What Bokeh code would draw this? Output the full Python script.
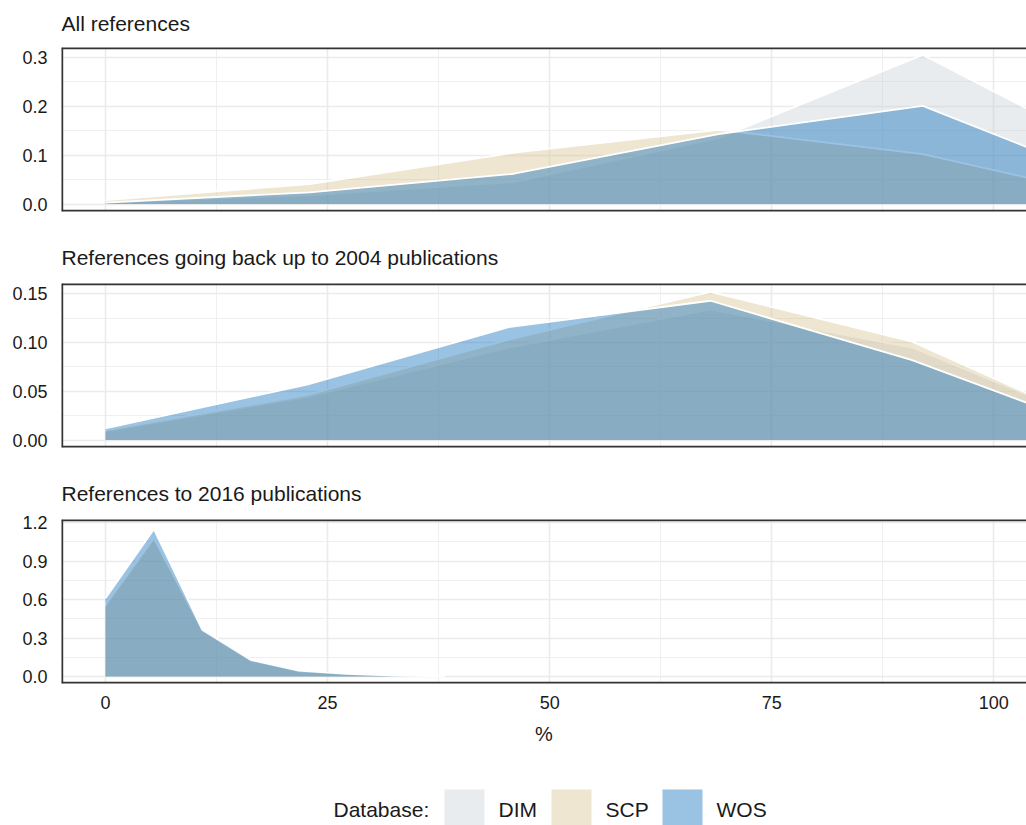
from bokeh.plotting import figure
from bokeh.layouts import column
from bokeh.models import Range1d, FixedTicker, NumeralTickFormatter, Span
from bokeh.core.properties import value
from bokeh.embed import file_html
from bokeh.resources import INLINE

FONT = "Liberation Sans"
TXT = "#1a1a1a"

# ---------------- data ----------------
databases = ["DIM", "SCP", "WOS"]
db_colors = ["#c5cfd7", "#d7c08e", "#0366b6"]
legend_title = "Database:"

panel_titles = ["All references",
                "References going back up to 2004 publications",
                "References to 2016 publications"]

# panel 1: all references
p1_x = [0, 23.0, 46.0, 69.0, 92.0, 115.0]
p1_dim = [0.003, 0.018, 0.045, 0.135, 0.305, 0.090]
p1_scp = [0.008, 0.041, 0.105, 0.152, 0.102, 0.008]
p1_wos = [0.003, 0.024, 0.062, 0.143, 0.201, 0.035]

# panel 2: references going back up to 2004 publications
p2_x = [0, 22.7, 45.4, 68.1, 90.8, 113.5]
p2_dim = [0.009, 0.044, 0.095, 0.134, 0.095, 0.010]
p2_scp = [0.010, 0.046, 0.103, 0.152, 0.101, 0.008]
p2_wos = [0.012, 0.057, 0.116, 0.143, 0.082, 0.005]

# panel 3: references to 2016 publications
p3_x = [0, 5.45, 10.9, 16.35, 21.8, 27.25, 32.7, 38.15]
p3_dim = [0.55, 1.07, 0.360, 0.125, 0.040, 0.018, 0.006, 0.0]
p3_scp = [0.56, 1.08, 0.360, 0.125, 0.042, 0.018, 0.006, 0.0]
p3_wos = [0.61, 1.15, 0.365, 0.130, 0.045, 0.020, 0.007, 0.0]

x_ticks = [0, 25, 50, 75, 100]
x_minor = [12.5, 37.5, 62.5, 87.5]
p1_yticks = [0.0, 0.1, 0.2, 0.3]
p1_yminor = [0.05, 0.15, 0.25]
p2_yticks = [0.0, 0.05, 0.10, 0.15]
p2_yminor = [0.025, 0.075, 0.125]
p3_yticks = [0.0, 0.3, 0.6, 0.9, 1.2]
p3_yminor = [0.15, 0.45, 0.75, 1.05]
x_label = "%"

X_LO, X_HI = -4.95, 103.68
W = 1026
LEFT = 61
FRAME_H = 164


def make_panel(title, x, series, yticks, yminor, yfmt, ylo, yhi, height, top, bottom,
               show_x, title_standoff):
    p = figure(width=W, height=height, output_backend="svg", toolbar_location=None,
               x_range=Range1d(X_LO, X_HI), y_range=Range1d(ylo, yhi),
               min_border_left=LEFT, min_border_right=0,
               min_border_top=top, min_border_bottom=bottom,
               background_fill_color="white", border_fill_color="white",
               outline_line_color=None)
    p.title.text = title
    p.title.text_font = FONT
    p.title.text_font_size = "21px"
    p.title.text_font_style = "normal"
    p.title.text_color = TXT
    p.title.align = "left"
    p.title.vertical_align = "top"
    p.title.standoff = title_standoff

    for db, col, ys in zip(databases, db_colors, series):
        p.varea(x=x, y1=[0] * len(x), y2=ys, fill_color=col, fill_alpha=0.4)
        p.line(x=x, y=ys, line_color="white", line_width=1.8)

    xt = FixedTicker(ticks=x_ticks, minor_ticks=x_minor)
    yt = FixedTicker(ticks=yticks, minor_ticks=yminor)
    p.xaxis.ticker = xt
    p.yaxis.ticker = yt
    p.xgrid.ticker = xt
    p.ygrid.ticker = yt
    for g in (p.xgrid, p.ygrid):
        g.grid_line_color = "#ebebeb"
        g.grid_line_width = 1.6
        g.minor_grid_line_color = "#ebebeb"
        g.minor_grid_line_width = 0.8

    p.yaxis.formatter = NumeralTickFormatter(format=yfmt)
    for ax in (p.xaxis, p.yaxis):
        ax.major_tick_line_color = None
        ax.minor_tick_line_color = None
        ax.axis_line_color = None
        ax.major_tick_out = 0
        ax.major_tick_in = 0
        ax.minor_tick_out = 0
        ax.major_label_text_font = FONT
        ax.major_label_text_font_size = "18px"
        ax.major_label_text_color = TXT
    p.yaxis.major_label_standoff = 14

    if show_x:
        p.xaxis.formatter = NumeralTickFormatter(format="0")
        p.xaxis.major_label_standoff = 12
        p.xaxis.axis_label = x_label
        p.xaxis.axis_label_text_font = FONT
        p.xaxis.axis_label_text_font_size = "20px"
        p.xaxis.axis_label_text_font_style = "normal"
        p.xaxis.axis_label_text_color = TXT
        p.xaxis.axis_label_standoff = 11
    else:
        p.xaxis.visible = False

    # panel border (top, bottom, left); nudged half a pixel inside the frame
    px_x = (X_HI - X_LO) / (W - LEFT)
    px_y = (yhi - ylo) / FRAME_H
    for loc, dim in ((yhi - 0.6 * px_y, "width"), (ylo + 0.6 * px_y, "width"),
                     (X_LO + 0.6 * px_x, "height")):
        p.add_layout(Span(location=loc, dimension=dim, line_color="#333333", line_width=2.2))
    return p


f1 = make_panel(panel_titles[0], p1_x, [p1_dim, p1_scp, p1_wos], p1_yticks, p1_yminor, "0.0",
                -0.01525, 0.32025, 231, 47, 20, False, 21)
f2 = make_panel(panel_titles[1], p2_x, [p2_dim, p2_scp, p2_wos], p2_yticks, p2_yminor, "0.00",
                -0.00765, 0.1607, 236, 52, 20, False, 25)
f3 = make_panel(panel_titles[2], p3_x, [p3_dim, p3_scp, p3_wos], p3_yticks, p3_yminor, "0.0",
                -0.055, 1.225, 283, 52, 67, True, 25)

# ---------------- legend ----------------
LH = 75
leg = figure(width=W, height=LH, output_backend="svg", toolbar_location=None,
             x_range=Range1d(LEFT, W), y_range=Range1d(0, LH),
             min_border_left=LEFT, min_border_right=0, min_border_top=0, min_border_bottom=0,
             outline_line_color=None, background_fill_color="white", border_fill_color="white")
leg.axis.visible = False
leg.grid.visible = False
key_left = [444, 551, 662]
leg.quad(left=key_left, right=[k + 40 for k in key_left], bottom=[0] * 3, top=[36] * 3,
         fill_color=db_colors, fill_alpha=0.4, line_color=None)
leg.text(x=[333], y=[16], text=[legend_title], text_baseline="middle", text_align="left",
         text_font=value(FONT), text_font_size="21px", text_color=TXT)
leg.text(x=[k + 54 for k in key_left], y=[16] * 3, text=databases, text_baseline="middle",
         text_align="left", text_font=value(FONT), text_font_size="21px", text_color=TXT)

layout = column(f1, f2, f3, leg, spacing=0)
open("out.html", "w").write(file_html(layout, INLINE))
